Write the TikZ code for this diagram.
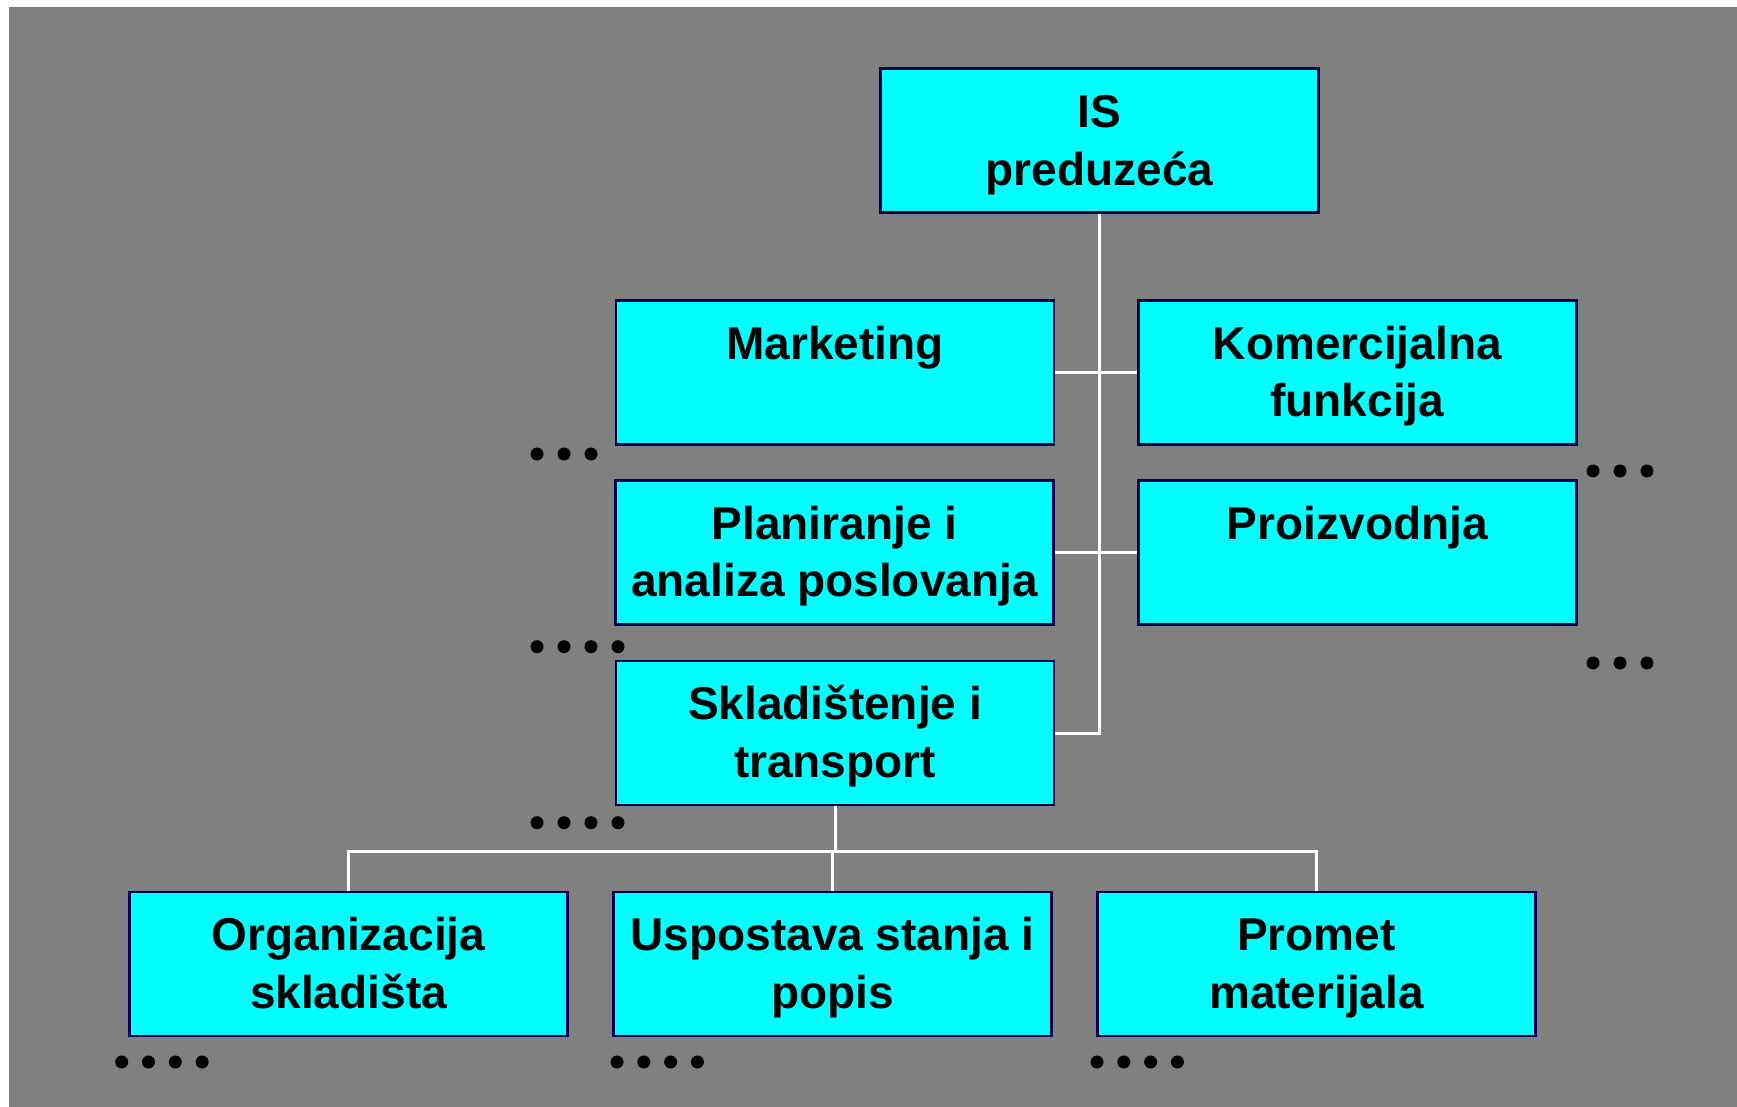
\documentclass[tikz,border=0pt]{standalone}
\usepackage{fontspec}
\setmainfont{Liberation Sans}
\usetikzlibrary{backgrounds}
\definecolor{bgGrey}{HTML}{808080}
\definecolor{boxFill}{HTML}{00FFFF}
\definecolor{boxLine}{HTML}{000050}
\begin{document}
\begin{tikzpicture}[x=1pt,y=-1pt,
  box/.style={draw=boxLine, line width=2.6pt, fill=boxFill, minimum width=438pt, minimum height=144pt, inner sep=0pt},
  lbl/.style={anchor=base, inner sep=0pt, font=\fontsize{46pt}{57.5pt}\selectfont\bfseries},
  conn/.style={draw=white, line width=3pt},
  dotc/.style={fill=black}]
\useasboundingbox (0,0) rectangle (1737,1107);

% boxes
\node[box] (is)   at (1099.5,140.5) {};
\node[box] (mkt)  at (835,372.5) {};
\node[box] (kom)  at (1357.3,372.5) {};
\node[box] (plan) at (834.5,552.5) {};
\node[box] (pro)  at (1357.3,552.5) {};
\node[box] (sk)   at (835,733) {};
\node[box] (org)  at (348.5,964) {};
\node[box] (usp)  at (832.5,964) {};
\node[box] (prom) at (1316.5,964) {};

% labels
\newcommand{\twolines}[2]{\parbox[t]{440pt}{\centering #1\\#2}}
\node[lbl] (is-t)   at ([yshift=-60.5pt]is.north)   {\twolines{IS}{preduzeća}};
\node[lbl] (mkt-t)  at ([yshift=-60pt]mkt.north)    {\twolines{Marketing}{}};
\node[lbl] (kom-t)  at ([yshift=-60pt]kom.north)    {\twolines{Komercijalna}{funkcija}};
\node[lbl] (plan-t) at ([yshift=-60pt]plan.north)   {\twolines{Planiranje i}{analiza poslovanja}};
\node[lbl] (pro-t)  at ([yshift=-60pt]pro.north)    {\twolines{Proizvodnja}{}};
\node[lbl] (sk-t)   at ([yshift=-60pt]sk.north)     {\twolines{Skladištenje i}{transport}};
\node[lbl] (org-t)  at ([yshift=-60pt]org.north)    {\twolines{Organizacija}{skladišta}};
\node[lbl] (usp-t)  at ([yshift=-60pt]usp.north)    {\twolines{Uspostava stanja i}{popis}};
\node[lbl] (prom-t) at ([yshift=-60pt]prom.north)   {\twolines{Promet}{materijala}};

\coordinate (bus) at (835,851.5);

\begin{pgfonlayer}{background}
  \fill[white] (0,0) rectangle (1737,1107);
  \fill[bgGrey] (9,7) rectangle (1737,1107);
  % connectors
  \draw[conn] (is.south) |- (sk.east);
  \draw[conn] (mkt.east) -- (kom.west);
  \draw[conn] (plan.east) -- (pro.west);
  \draw[conn] (sk.south) -- (sk.south |- bus);
  \draw[conn] (org.north) -- (org.north |- bus) -- (prom.north |- bus) -- (prom.north);
  \draw[conn] (usp.north) -- (usp.north |- bus);
\end{pgfonlayer}

% dots
\foreach \x in {537,564,591} \fill[dotc] (\x,454) circle (6.5pt);
\foreach \x in {537,564,591,618} {
  \fill[dotc] (\x,646.7) circle (6.5pt);
  \fill[dotc] (\x,822.7) circle (6.5pt);
}
\foreach \x in {1593,1620,1647} {
  \fill[dotc] (\x,471) circle (6.5pt);
  \fill[dotc] (\x,663) circle (6.5pt);
}
\foreach \x in {0,26.8,53.6,80.4} {
  \fill[dotc] (121.7+\x,1062) circle (6.5pt);
  \fill[dotc] (617+\x,1062) circle (6.5pt);
  \fill[dotc] (1097+\x,1062) circle (6.5pt);
}
\end{tikzpicture}
\end{document}
